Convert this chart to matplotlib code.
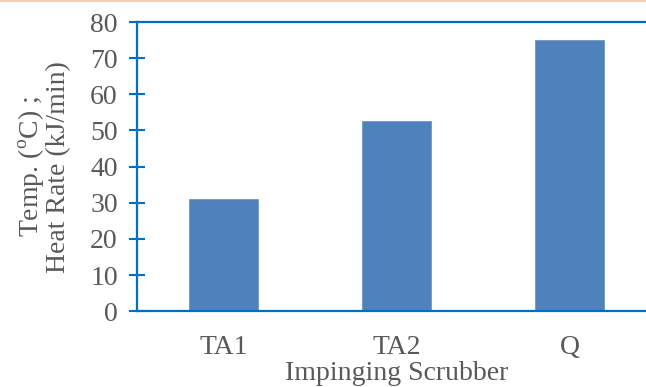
import matplotlib.pyplot as plt
import numpy as np

plt.rcParams['font.family'] = ['Liberation Serif', 'DejaVu Serif']
plt.rcParams['mathtext.fontset'] = 'custom'
plt.rcParams['mathtext.rm'] = 'Liberation Serif'

categories = ["TA1", "TA2", "Q"]
values = [31, 52.5, 75]

blue = "#0070c0"
grey = "#595959"

fig = plt.figure(figsize=(6.46, 3.87), dpi=100)
ax = fig.add_axes([0.212, 0.196, 0.804, 0.747])

x = np.arange(len(categories))
ax.bar(x, values, width=0.4, color="#4f81bd", edgecolor="#6f97c8", linewidth=0.6, zorder=2)

ax.set_xlim(-0.5, 2.5)
ax.set_ylim(0, 80)
ax.set_yticks(np.arange(0, 81, 10))
ax.set_xticks(x)
ax.set_xticklabels(categories)

for s in ["left", "top", "bottom"]:
    ax.spines[s].set_color(blue)
    ax.spines[s].set_linewidth(1.6)
ax.spines["right"].set_visible(False)

ax.tick_params(axis="y", direction="inout", length=11.5, width=1.5, color=blue,
               labelsize=20, labelcolor=grey, pad=8)
ax.tick_params(axis="x", length=0, labelsize=20, labelcolor=grey, pad=17)

ax.set_xlabel("Impinging Scrubber", fontsize=20, color=grey, labelpad=1)
ax.set_ylabel("Temp. ($^{\\mathrm{o}}$C) ;\nHeat Rate (kJ/min)", fontsize=20, color=grey,
              labelpad=14, linespacing=0.95)

# thin peach line along the top edge
fig.add_artist(plt.Line2D([0, 1], [0.998, 0.998], color="#f8cfb4", lw=1.5,
                          transform=fig.transFigure))

fig.savefig("out.png", dpi=100)
